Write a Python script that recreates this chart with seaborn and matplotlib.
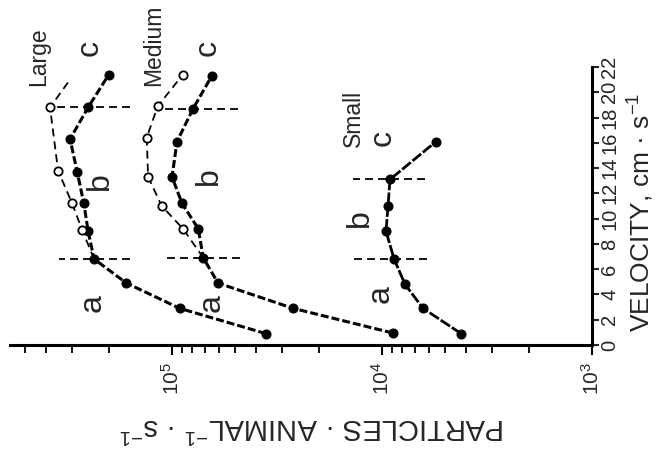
import matplotlib
matplotlib.use("Agg")
import matplotlib.pyplot as plt
import pandas as pd
import seaborn as sns
from matplotlib.ticker import LogLocator, NullFormatter, MultipleLocator

# values: velocity (cm/s) vs particles per animal per s
large_vel = [0.9, 2.9, 4.9, 6.8, 9.0, 11.2, 13.7, 16.3, 18.8, 21.4]
large_rate = [3.57e4, 9.2e4, 1.65e5, 2.35e5, 2.51e5, 2.63e5, 2.83e5, 3.06e5, 2.51e5, 2.0e5]
large_open_vel = [6.8, 9.1, 11.2, 13.8, 18.8, 21.0]
large_open_rate = [2.35e5, 2.68e5, 2.99e5, 3.49e5, 3.81e5, 3.06e5]

medium_vel = [0.95, 2.9, 4.9, 6.9, 9.2, 11.2, 13.3, 16.1, 18.7, 21.3]
medium_rate = [8.9e3, 2.65e4, 6.04e4, 7.1e4, 7.5e4, 8.96e4, 1.0e5, 9.47e4, 7.94e4, 6.46e4]
medium_open_vel = [6.9, 9.2, 11.0, 13.3, 16.4, 18.9, 21.4]
medium_open_rate = [7.1e4, 8.87e4, 1.12e5, 1.3e5, 1.32e5, 1.17e5, 8.87e4]

small_vel = [0.9, 2.9, 4.8, 6.8, 9.0, 11.0, 13.1, 16.1]
small_rate = [4.2e3, 6.38e3, 7.77e3, 8.76e3, 9.57e3, 9.36e3, 9.16e3, 5.53e3]

# region breaks (a|b and b|c) for each size
break_vel = [6.8, 18.8, 6.9, 18.7, 6.8, 13.1]
break_lo = [1.58e5, 1.58e5, 4.74e4, 4.85e4, 6.1e3, 6.24e3]
break_hi = [3.45e5, 3.81e5, 1.10e5, 1.17e5, 1.36e4, 1.37e4]

region_labels = ["a", "b", "c", "a", "b", "c", "a", "b", "c"]
region_vel = [3.3, 13.0, 23.5, 3.3, 13.4, 23.5, 4.0, 10.0, 16.4]
region_rate = [2.4e5, 2.2e5, 2.46e5, 6.45e4, 6.7e4, 6.8e4, 1.02e4, 1.27e4, 9.9e3]

size_names = ["Large", "Medium", "Small"]
name_vel = [22.8, 23.7, 17.95]
name_rate = [4.3e5, 1.23e5, 1.37e4]

sns.set_style("white")
plt.rcParams["font.family"] = ["Liberation Sans", "DejaVu Sans"]
plt.rcParams["mathtext.fontset"] = "custom"
plt.rcParams["mathtext.rm"] = "Liberation Sans"
plt.rcParams["mathtext.default"] = "regular"

fig = plt.figure(figsize=(6.59, 4.55), dpi=100)
ax = fig.add_axes([0.0152, 0.2418, 0.8831, 0.611])
ax.set_xscale("log")


def curve(vel, rate, **kw):
    df = pd.DataFrame({"rate": rate, "vel": vel})
    sns.lineplot(data=df, x="rate", y="vel", sort=False, estimator=None,
                 ax=ax, color="black", clip_on=False, **kw)


thick = dict(lw=2.2, linestyle=(0, (2.6, 1.0)), marker="o", markersize=6.5,
             markerfacecolor="black", markeredgecolor="black", zorder=3)
thin = dict(lw=1.3, linestyle=(0, (4.4, 2.8)), marker="o", markersize=6,
            markerfacecolor="white", markeredgecolor="black",
            markeredgewidth=1.3, zorder=4)

curve(large_open_vel, large_open_rate, markevery=[1, 2, 3, 4], **thin)
curve(medium_open_vel, medium_open_rate, markevery=[1, 2, 3, 4, 5, 6], **thin)
curve(large_vel, large_rate, **thick)
curve(medium_vel, medium_rate, **thick)
curve(small_vel, small_rate, lw=2.0, linestyle=(0, (4, 0.8)), marker="o",
      markersize=6.5, markerfacecolor="black", markeredgecolor="black", zorder=3)

for v, lo, hi in zip(break_vel, break_lo, break_hi):
    ax.plot([lo, hi], [v, v], color="black", lw=1.3,
            linestyle=(0, (4.4, 2.8)), zorder=2)

for lab, v, r in zip(region_labels, region_vel, region_rate):
    ax.text(r, v, lab, fontsize=23, rotation=90, ha="center", va="center",
            clip_on=False)
for lab, v, r in zip(size_names, name_vel, name_rate):
    ax.text(r, v, lab, fontsize=16.5, rotation=90, ha="center", va="center",
            clip_on=False)

ax.set_xlim(5.91e5, 1e3)
ax.set_ylim(0, 22)

for s in ["left", "top"]:
    ax.spines[s].set_visible(False)
for s in ["right", "bottom"]:
    ax.spines[s].set_linewidth(2.2)
    ax.spines[s].set_color("black")

ax.xaxis.set_major_locator(LogLocator(base=10))
ax.xaxis.set_minor_locator(LogLocator(base=10, subs=range(2, 10)))
ax.xaxis.set_minor_formatter(NullFormatter())
ax.yaxis.set_major_locator(MultipleLocator(2))
ax.yaxis.tick_right()
ax.yaxis.set_label_position("right")

ax.tick_params(axis="x", which="both", direction="out", bottom=True,
               labelrotation=90, labelsize=15, pad=5, color="black")
ax.tick_params(axis="x", which="major", length=7, width=1.5)
ax.tick_params(axis="x", which="minor", length=6, width=1.3)
ax.tick_params(axis="y", direction="out", right=True, left=False,
               labelrotation=90, labelsize=14.5, length=5, width=1.5, pad=1)
for t in ax.get_yticklabels():
    t.set_va("center")

ax.set_xlabel("PARTICLES · ANIMAL$^{-1}$ · s$^{-1}$", fontsize=21, rotation=180)
ax.xaxis.set_label_coords(0.519, -0.24)
ax.set_ylabel("VELOCITY, cm · s$^{-1}$", fontsize=19, rotation=90)
ax.yaxis.set_label_coords(1.058, 0.478)

fig.savefig("out.png", dpi=100)
